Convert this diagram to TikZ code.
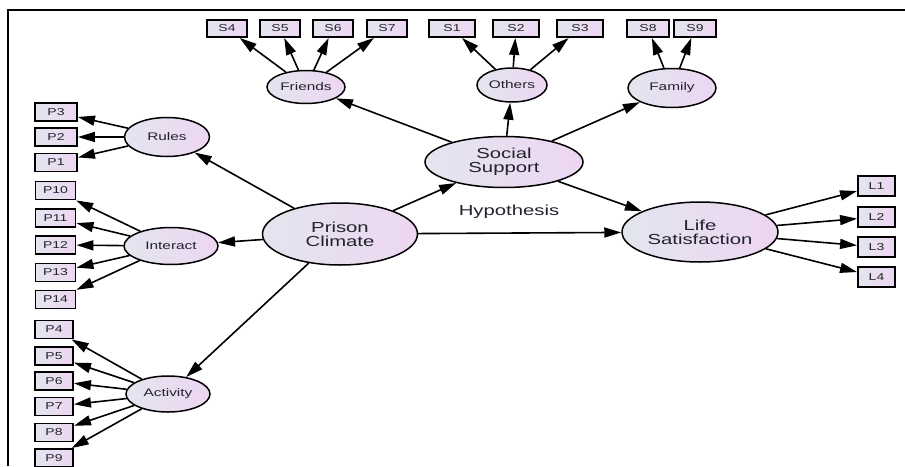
\documentclass[tikz,border=0pt]{standalone}
\usepackage{fontspec}
\newfontfamily\amosfont[FakeStretch=1.4]{Liberation Sans}
\usepackage{tikz}
\usetikzlibrary{shapes.geometric, arrows.meta}

\definecolor{shadeL}{HTML}{E3E5EF}
\definecolor{shadeR}{HTML}{EDD6F1}
\definecolor{inkcol}{HTML}{22222F}

\begin{document}
\begin{tikzpicture}[x=1pt, y=-1pt,
		latent/.style={ellipse, draw, line width=1.5pt, left color=shadeL, right color=shadeR,
			inner sep=0pt, text=inkcol, align=center, font=\amosfont\fontsize{11}{11}\selectfont},
		biglatent/.style={latent, font=\amosfont\fontsize{14.5}{14}\selectfont},
		obs/.style={rectangle, draw, line width=1.9pt, left color=shadeL, right color=shadeR,
			minimum width=40pt, minimum height=18pt, inner sep=0pt, text=inkcol,
			font=\amosfont\fontsize{10}{10}\selectfont},
		load/.style={-{Triangle[length=17pt, width=10pt]}, line width=1.6pt}]
		
		%page size
		\useasboundingbox (0,0) rectangle (905,466);
		
		%frame
		\coordinate (FB) at (8,466);
		\coordinate (FC) at (8,10);
		\coordinate (FR) at (905,10);
		\draw [line width=1.8pt] (FB) -- (FC) -- (FR);
		
		%structural part
		\node [biglatent, minimum width=155pt, minimum height=62pt] (climate) at (340,234) {Prison\\Climate};
		\node [biglatent, minimum width=158pt, minimum height=51pt] (support) at (504,162) {Social\\Support};
		\node [biglatent, minimum width=156pt, minimum height=60pt] (life) at (700,232) {Life\\Satisfaction};
		\node [text=inkcol, font=\amosfont\fontsize{14.5}{14}\selectfont] (hyp) at (509,212) {Hypothesis};
		
		%first order factors
		\node [latent, minimum width=85pt, minimum height=39pt] (rules) at (167,137) {Rules};
		\node [latent, minimum width=94pt, minimum height=37pt] (interact) at (171,246) {Interact};
		\node [latent, minimum width=84pt, minimum height=36pt] (activity) at (168,394) {Activity};
		\node [latent, minimum width=78pt, minimum height=33pt] (friends) at (306,87) {Friends};
		\node [latent, minimum width=70pt, minimum height=34pt] (others) at (512,85) {Others};
		\node [latent, minimum width=88pt, minimum height=39pt] (family) at (672,88) {Family};
		
		\draw [load] (climate) -- (rules);
		\draw [load] (climate) -- (interact);
		\draw [load] (climate) -- (activity);
		\draw [load] (climate) -- (support);
		\draw [load] (climate) -- (life);
		\draw [load] (support) -- (friends);
		\draw [load] (support) -- (others);
		\draw [load] (support) -- (family);
		\draw [load] (support) -- (life);
		
		%indicators of rules
		\node [obs, minimum width=42pt] (p3) at (56,112) {P3};
		\node [obs, minimum width=42pt] (p2) at (56,137) {P2};
		\node [obs, minimum width=42pt] (p1) at (56,162.5) {P1};
		
		\draw [load] (rules) -- (p3);
		\draw [load] (rules) -- (p2);
		\draw [load] (rules) -- (p1);
		
		%indicators of interact
		\node [obs] (p10) at (55.5,190.5) {P10};
		\node [obs] (p11) at (55.5,218) {P11};
		\node [obs] (p12) at (55.5,245) {P12};
		\node [obs] (p13) at (55.5,272.5) {P13};
		\node [obs] (p14) at (55.5,299.5) {P14};
		
		\draw [load] (interact) -- (p10);
		\draw [load] (interact) -- (p11);
		\draw [load] (interact) -- (p12);
		\draw [load] (interact) -- (p13);
		\draw [load] (interact) -- (p14);
		
		%indicators of activity
		\node [obs, minimum width=38pt] (p4) at (54,329.5) {P4};
		\node [obs, minimum width=38pt] (p5) at (54,356) {P5};
		\node [obs, minimum width=38pt] (p6) at (54,381) {P6};
		\node [obs, minimum width=38pt] (p7) at (54,406.5) {P7};
		\node [obs, minimum width=38pt] (p8) at (54,432.5) {P8};
		\node [obs, minimum width=38pt] (p9) at (54,458) {P9};
		
		\draw [load] (activity) -- (p4);
		\draw [load] (activity) -- (p5);
		\draw [load] (activity) -- (p6);
		\draw [load] (activity) -- (p7);
		\draw [load] (activity) -- (p8);
		\draw [load] (activity) -- (p9);
		
		%indicators of social support
		\node [obs, minimum height=17pt] (s4) at (227,28.5) {S4};
		\node [obs, minimum height=17pt] (s5) at (280,28.5) {S5};
		\node [obs, minimum height=17pt] (s6) at (333,28.5) {S6};
		\node [obs, minimum height=17pt] (s7) at (387,28.5) {S7};
		\node [obs, minimum height=17pt, minimum width=46pt] (s1) at (452,28.5) {S1};
		\node [obs, minimum height=17pt, minimum width=46pt] (s2) at (516,28.5) {S2};
		\node [obs, minimum height=17pt, minimum width=46pt] (s3) at (580,28.5) {S3};
		\node [obs, minimum height=17pt, minimum width=42pt] (s8) at (648,28.5) {S8};
		\node [obs, minimum height=17pt, minimum width=42pt] (s9) at (695,28.5) {S9};
		
		\draw [load] (friends) -- (s4);
		\draw [load] (friends) -- (s5);
		\draw [load] (friends) -- (s6);
		\draw [load] (friends) -- (s7);
		\draw [load] (others) -- (s1);
		\draw [load] (others) -- (s2);
		\draw [load] (others) -- (s3);
		\draw [load] (family) -- (s8);
		\draw [load] (family) -- (s9);
		
		%indicators of life satisfaction
		\node [obs, minimum width=37pt, minimum height=20pt] (l1) at (876.5,186) {L1};
		\node [obs, minimum width=37pt, minimum height=20pt] (l2) at (876.5,217) {L2};
		\node [obs, minimum width=37pt, minimum height=20pt] (l3) at (876.5,247) {L3};
		\node [obs, minimum width=37pt, minimum height=20pt] (l4) at (876.5,277) {L4};
		
		\draw [load] (life) -- (l1);
		\draw [load] (life) -- (l2);
		\draw [load] (life) -- (l3);
		\draw [load] (life) -- (l4);
	\end{tikzpicture}
\end{document}
